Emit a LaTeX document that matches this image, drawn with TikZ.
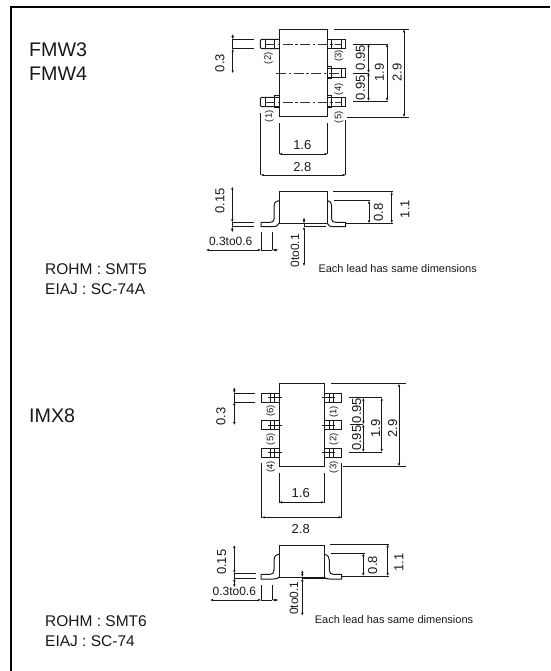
\documentclass[tikz,border=0pt]{standalone}
\usepackage{fontspec}
\setmainfont{Liberation Sans}
\usetikzlibrary{arrows.meta}
\tikzset{
  x=1pt,y=-1pt,
  frameline/.style={line width=1.5pt,black},
  outline/.style={line width=1pt,black!90},
  thin line/.style={line width=0.75pt,black!90},
  dimline/.style={line width=0.75pt,black!90,{Latex[length=3pt,width=2.6pt]}-{Latex[length=3pt,width=2.6pt]}},
  center line/.style={line width=0.8pt,black!80,dash pattern=on 10pt off 2.5pt on 2.5pt off 2.5pt},
  lbl/.style={inner sep=0pt,font=\fontsize{13}{13}\selectfont,text=black!90},
  vlbl/.style={lbl,rotate=90},
  slbl/.style={inner sep=0pt,font=\fontsize{12}{12}\selectfont,text=black!90},
  vslbl/.style={slbl,rotate=90},
  pin/.style={inner sep=0pt,rotate=90,font=\fontsize{9.5}{9.5}\selectfont,text=black!90},
  title/.style={inner sep=0pt,anchor=west,font=\fontsize{19.7}{19.7}\selectfont,text=black!90},
  pkg/.style={inner sep=0pt,anchor=west,font=\fontsize{15.5}{15.5}\selectfont,text=black!90},
  note/.style={inner sep=0pt,font=\fontsize{11}{11}\selectfont,text=black!90}
}
\begin{document}
\begin{tikzpicture}
\useasboundingbox (0,0) rectangle (550,671);
\draw[frameline] (550,7) -- (11,7) -- (11,671);
% text
\node[title] (t1) at (29,49.5) {FMW3};
\node[title] (t2) at (29,73.5) {FMW4};
\node[title] (t3) at (29,416) {IMX8};
\node[pkg] (p1) at (45,269) {ROHM : SMT5};
\node[pkg] (p2) at (45,289) {EIAJ : SC-74A};
\node[pkg] (p3) at (45,621.5) {ROHM : SMT6};
\node[pkg] (p4) at (45,641.5) {EIAJ : SC-74};
% ---------- top view 1
\draw[outline] (279,29.3) rectangle (327.7,117);
\foreach \c in {44,102}{
  \draw[outline] (279,\c-4.7) -- (261.5,\c-4.7) -- (260.3,\c-3.5) -- (260.3,\c+3.5) -- (261.5,\c+4.7) -- (279,\c+4.7);
  \draw[thin line] (265,\c-4.7) -- (265,\c+4.7);
  \draw[center line] (265,\c) -- (341,\c);
}
\draw[outline] (274.3,96) rectangle (279,108);
\draw[outline] (274.3,39.3) -- (274.3,48.7) -- (279,48.7);
\draw[center line] (276.3,73) -- (341,73);
\foreach \c in {44,73,102}{
  \draw[outline] (327.7,\c-4.7) -- (345.7,\c-4.7) -- (345.7,\c+4.7) -- (327.7,\c+4.7);
  \draw[thin line] (331.7,\c-4.7) -- (331.7,\c+4.7);
  \draw[thin line] (341,\c-4.7) -- (341,\c+4.7);
}
\draw[outline] (327.7,96) rectangle (331.7,108);
\draw[outline] (327.7,66.7) rectangle (331.7,79);
\node[pin] (a1) at (269.3,116.3) {(1)};
\node[pin] (a2) at (268.3,58.3) {(2)};
\node[pin] (a3) at (339,56) {(3)};
\node[pin] (a4) at (339,89.3) {(4)};
\node[pin] (a5) at (339,117.3) {(5)};
% dims 1
\draw[thin line] (232.7,39.3) -- (254.3,39.3) (232.7,48.7) -- (254.3,48.7) (232.7,39.3) -- (232.7,48.7);
\draw[dimline] (232.7,34) -- (232.7,39.3);
\draw[dimline] (232.7,48.7) -- (232.7,73.3);
\node[vlbl] (d03a) at (220,63) {0.3};
\draw[thin line] (353,44) -- (388,44) (353,101) -- (388,101) (353,73) -- (368.5,73);
\draw[dimline] (368.5,44) -- (368.5,73);
\draw[dimline] (368.5,73) -- (368.5,101);
\draw[dimline] (387,44) -- (387,101);
\node[vlbl] (d095a) at (360.5,57.5) {0.95};
\node[vlbl] (d095b) at (360.5,87.5) {0.95};
\node[vlbl] (d19a) at (379.3,72.7) {1.9};
\draw[thin line] (334,29.3) -- (409,29.3) (346.7,117) -- (409,117);
\draw[dimline] (404,29.3) -- (404,117);
\node[vlbl] (d29a) at (397.2,72.7) {2.9};
\draw[thin line] (279,123.3) -- (279,154) (327.7,123.3) -- (327.7,154);
\draw[dimline] (279,154) -- (327.7,154);
\node[lbl] (d16a) at (302.3,145) {1.6};
\draw[thin line] (260.7,113.3) -- (260.7,175) (345.7,120) -- (345.7,175);
\draw[dimline] (260.7,175) -- (345.7,175);
\node[lbl] (d28a) at (302.3,166.7) {2.8};
% side view 1
\draw[outline] (279,223.3) -- (279,191.7) -- (327.3,191.7) -- (327.3,223.3);
\draw[outline] (279,223.3) -- (327.3,223.3);
\draw[outline] (279,200.7) .. controls (275,201.5) and (274,203) .. (274,206) -- (274,219) .. controls (274,221.5) and (272.5,222.3) .. (270,222.3) -- (261,222.3) -- (261,226.7) -- (273,226.7) .. controls (276,226.7) and (278,226) .. (279,223.3);
\draw[outline] (327.3,200.7) .. controls (330.5,201.5) and (331.7,203) .. (331.7,206) -- (331.7,219) .. controls (331.7,221.5) and (333,222.3) .. (336,222.3) -- (345.7,222.3) -- (345.7,226.7) -- (333,226.7) .. controls (330,226.7) and (328.3,226) .. (327.3,223.3);
\draw[thin line] (232.3,222.3) -- (254.3,222.3) (232.3,226.7) -- (254.3,226.7) (232.3,222.3) -- (232.3,226.7);
\draw[dimline] (232.3,186.7) -- (232.3,222.3);
\draw[dimline] (232.3,226.7) -- (232.3,232.3);
\node[vlbl] (d015a) at (220,200.7) {0.15};
\draw[thin line] (261,232.3) -- (261,250) (272.3,232.3) -- (272.3,250) (261,250) -- (272.3,250);
\draw[dimline] (206,250) -- (261,250);
\draw[dimline] (272.3,250) -- (278.3,250);
\node[slbl] (d36a) at (230.7,241) {0.3to0.6};
\draw[thin line] (304,226.7) -- (325.7,226.7) (304,223.3) -- (304,226.7);
\draw[dimline] (304,217.5) -- (304,223.3);
\draw[dimline] (304,226.7) -- (304,266);
\node[vslbl] (d01a) at (295,250.7) {0to0.1};
\node[note] (n1) at (397.7,269) {Each lead has same dimensions};
\draw[thin line] (333.3,191.7) -- (393.3,191.7) (345.7,223.3) -- (393.3,223.3) (334.3,200.7) -- (370,200.7);
\draw[dimline] (369,200.7) -- (369,223.3);
\draw[dimline] (391.7,191.7) -- (391.7,223.3);
\node[vlbl] (d08a) at (378.3,212.7) {0.8};
\node[vlbl] (d11a) at (405,209) {1.1};
% ---------- top view 2
\draw[outline] (279,383.7) rectangle (324.3,466.3);
\foreach \c in {397.7,425,452.7}{
  \draw[outline] (279,\c-4.4) -- (261.7,\c-4.4) -- (261.7,\c+4.4) -- (279,\c+4.4);
  \draw[thin line] (270.7,\c-4.4) -- (270.7,\c+4.4) (274.3,\c-4.4) -- (274.3,\c+4.4);
  \draw[thin line] (268,\c) -- (281.7,\c);
  \draw[outline] (324.3,\c-4.4) -- (341.7,\c-4.4) -- (341.7,\c+4.4) -- (324.3,\c+4.4);
  \draw[thin line] (329.3,\c-4.4) -- (329.3,\c+4.4) (333.7,\c-4.4) -- (333.7,\c+4.4);
  \draw[thin line] (321.7,\c) -- (335,\c);
}
\node[pin] (b6) at (271,410.7) {(6)};
\node[pin] (b5) at (271,439.3) {(5)};
\node[pin] (b4) at (271,466.7) {(4)};
\node[pin] (b1) at (334,411.7) {(1)};
\node[pin] (b2) at (334,439.3) {(2)};
\node[pin] (b3) at (334,467.3) {(3)};
% dims 2
\draw[thin line] (234.3,393.3) -- (255,393.3) (234.3,402.1) -- (255,402.1) (234.3,393.3) -- (234.3,402.1);
\draw[dimline] (234.3,387.3) -- (234.3,393.3);
\draw[dimline] (234.3,402.1) -- (234.3,425);
\node[vlbl] (d03b) at (221,416.7) {0.3};
\draw[thin line] (349.3,397.7) -- (382.3,397.7) (349.3,452) -- (382.3,452) (350,424.3) -- (363.3,424.3);
\draw[dimline] (363.3,397.7) -- (363.3,424.3);
\draw[dimline] (363.3,424.3) -- (363.3,452);
\draw[dimline] (381.7,397.7) -- (381.7,452);
\node[vlbl] (d095c) at (356.7,410.5) {0.95};
\node[vlbl] (d095d) at (356.7,438.3) {0.95};
\node[vlbl] (d19b) at (375.7,428.3) {1.9};
\draw[thin line] (330.7,383.7) -- (405.7,383.7) (342.7,466.3) -- (405.7,466.3);
\draw[dimline] (399,383.7) -- (399,466.3);
\node[vlbl] (d29b) at (392.7,428.7) {2.9};
\draw[thin line] (279,472.7) -- (279,503.3) (324.3,472.7) -- (324.3,503.3);
\draw[dimline] (279,502.3) -- (324.3,502.3);
\node[lbl] (d16b) at (300.7,492.7) {1.6};
\draw[thin line] (261.7,462.7) -- (261.7,518.3) (341.7,463.3) -- (341.7,518.3);
\draw[dimline] (261.7,517.3) -- (341.7,517.3);
\node[lbl] (d28b) at (300.7,529) {2.8};
% side view 2
\draw[outline] (279,577.3) -- (279,545.7) -- (324.3,545.7) -- (324.3,577.3) -- cycle;
\draw[outline] (279,554.3) .. controls (275,555) and (274,557) .. (274,560) -- (274,570) .. controls (274,573) and (272.5,574.3) .. (270,574.3) -- (261,574.3) -- (261,579) -- (273,579) .. controls (276,579) and (278,578.5) .. (279,577.3);
\draw[outline] (324.3,554.3) .. controls (328,555) and (329.3,557) .. (329.3,560) -- (329.3,570) .. controls (329.3,573) and (331,574.3) .. (333,574.3) -- (341.7,574.3) -- (341.7,579) -- (330,579) .. controls (327,579) and (325.3,578.5) .. (324.3,577.3);
\draw[thin line] (234.3,573.3) -- (255.7,573.3) (234.3,578.3) -- (255.7,578.3) (234.3,573.3) -- (234.3,578.3);
\draw[dimline] (234.3,545) -- (234.3,573.3);
\draw[dimline] (234.3,578.3) -- (234.3,587.3);
\node[vlbl] (d015b) at (221.7,562.3) {0.15};
\draw[thin line] (261,585) -- (261,600) (272.3,585) -- (272.3,600) (261,600) -- (272.3,600);
\draw[dimline] (210,600) -- (261,600);
\draw[dimline] (272.3,600) -- (278.3,600);
\node[slbl] (d36b) at (234.3,591.7) {0.3to0.6};
\draw[thin line] (302.3,578.3) -- (328,578.3) (302.3,577) -- (302.3,578.3);
\draw[dimline] (302.3,570) -- (302.3,577);
\draw[dimline] (302.3,578.3) -- (302.3,615.7);
\node[vslbl] (d01b) at (294,598.3) {0to0.1};
\node[note] (n2) at (394,619.3) {Each lead has same dimensions};
\draw[thin line] (330,544.3) -- (389,544.3) (341.7,576) -- (389,576) (330.7,553.3) -- (365,553.3);
\draw[dimline] (363.3,553.3) -- (363.3,576);
\draw[dimline] (387.7,544.3) -- (387.7,576);
\node[vlbl] (d08b) at (372.7,565) {0.8};
\node[vlbl] (d11b) at (399,562.3) {1.1};
\end{tikzpicture}
\end{document}
